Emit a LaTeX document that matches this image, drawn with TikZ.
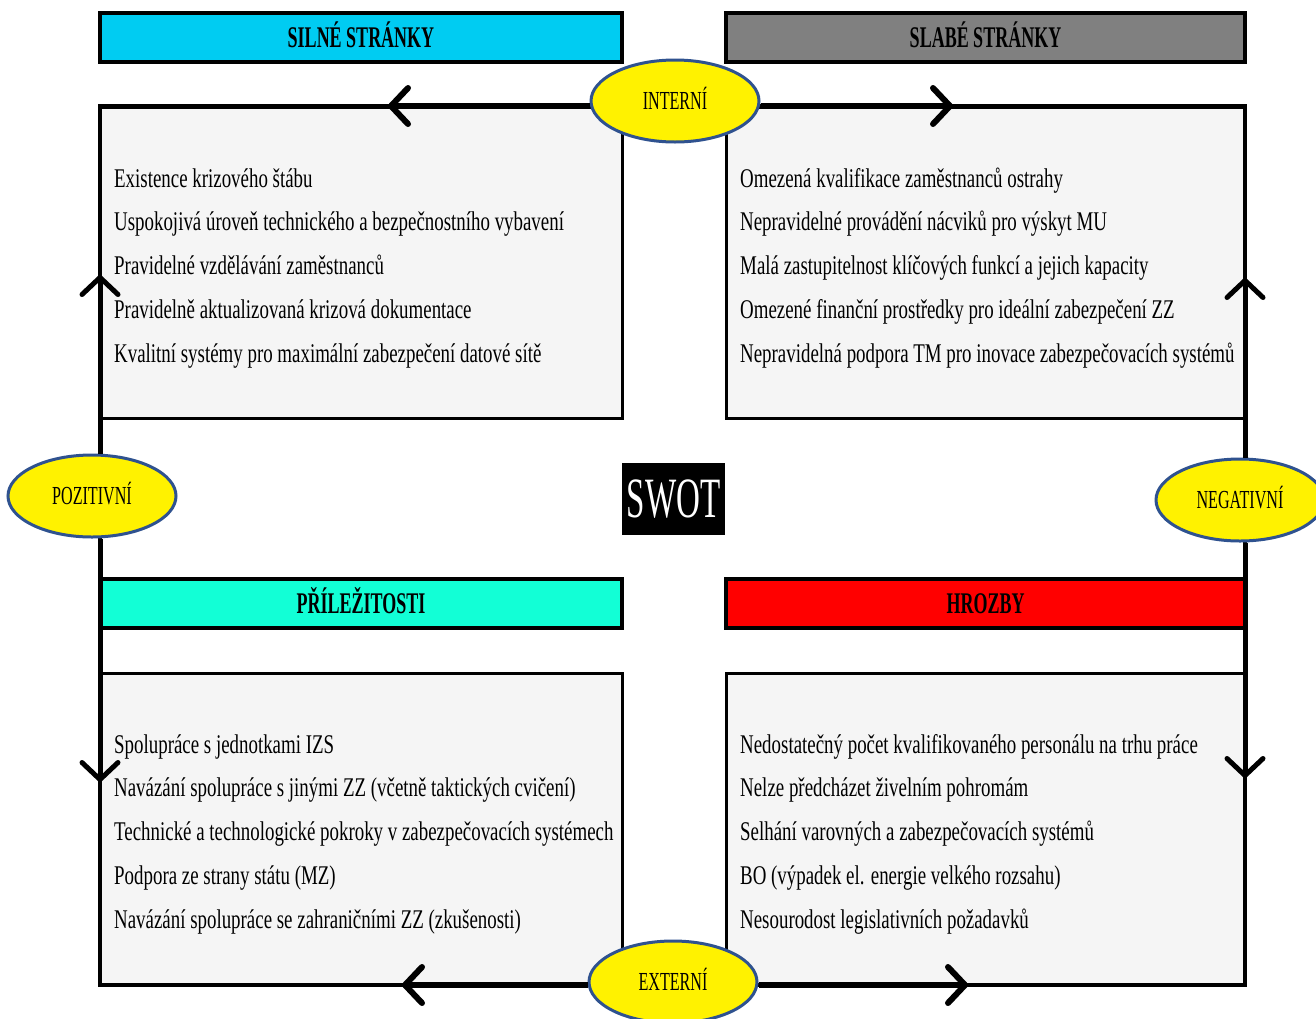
\documentclass[tikz,border=0pt]{standalone}
\usepackage{fontspec}
\setmainfont{Liberation Serif}
\newfontfamily\bodyf[FakeStretch=0.70]{Liberation Serif}
\newfontfamily\hdrf[FakeStretch=0.60]{Liberation Serif}
\newfontfamily\ellf[FakeStretch=0.62]{Liberation Serif}
\newfontfamily\swotf[FakeStretch=0.58]{Liberation Serif}
\usetikzlibrary{shapes.geometric,arrows.meta}
\definecolor{hcyan}{RGB}{0,204,242}
\definecolor{hgray}{RGB}{128,128,128}
\definecolor{haqua}{RGB}{18,255,214}
\definecolor{hred}{RGB}{255,0,0}
\definecolor{boxfill}{RGB}{245,245,245}
\definecolor{eblue}{RGB}{47,82,143}
\begin{document}
\begin{tikzpicture}[x=1pt,y=-1pt,
  hdr/.style={draw=black,line width=4pt,minimum width=522pt,minimum height=49pt,inner sep=0pt,
    text height=20pt,text depth=0pt,
    font=\hdrf\bfseries\fontsize{30}{30}\selectfont},
  box/.style={draw=black,line width=3pt,fill=boxfill,minimum width=522pt,minimum height=311pt,inner sep=0pt},
  ell/.style={ellipse,draw=eblue,line width=3pt,fill=yellow,minimum width=168pt,minimum height=82pt,inner sep=0pt,
    text height=17.5pt,text depth=0pt,
    font=\ellf\fontsize{26}{26}\selectfont},
  item/.style={anchor=base west,inner sep=0pt,font=\bodyf\fontsize{27}{30}\selectfont},
  frame/.style={draw=black,line width=4.5pt},
  arr/.style={draw=black,line width=6pt,-{Straight Barb[length=17pt,width=36pt,round]}}]
\useasboundingbox (0,0) rectangle (1316,1018);
\fill[white] (0,0) rectangle (1316,1018);
% headers
\node[hdr,fill=hcyan] (hs) at (361,37.5) {SILNÉ STRÁNKY};
\node[hdr,fill=hgray,minimum width=519pt] (hw) at (985.5,37.5) {SLABÉ STRÁNKY};
\node[hdr,fill=haqua] (ho) at (361,603.5) {PŘÍLEŽITOSTI};
\node[hdr,fill=hred,minimum width=519pt] (ht) at (985.5,603.5) {HROZBY};
% boxes
\node[box] (bs) at (361,262.5) {};
\node[box,minimum width=519pt] (bw) at (985.5,262.5) {};
\node[box,minimum height=312pt] (bo) at (361,829) {};
\node[box,minimum width=519pt,minimum height=312pt] (bt) at (985.5,829) {};
% frame corners and arrow tips
\coordinate (ctl) at (100,106);
\coordinate (ctr) at (1245,106);
\coordinate (cbl) at (100,985);
\coordinate (cbr) at (1245,985);
\coordinate (atl) at (388,106);
\coordinate (atr) at (953,106);
\coordinate (aul) at (100,275);
\coordinate (adl) at (100,782);
\coordinate (aur) at (1245,278);
\coordinate (adr) at (1245,778);
\coordinate (abl) at (402,985);
\coordinate (abr) at (968,985);
\draw[frame] (ctl) -- (ctr) -- (cbr) -- (cbl) -- cycle;
% ellipses
\node[ell] (int) at (675,101) {INTERNÍ};
\node[ell] (pos) at (92,496) {POZITIVNÍ};
\node[ell] (neg) at (1240,500) {NEGATIVNÍ};
\node[ell] (ext) at (673,982) {EXTERNÍ};
% arrows
\draw[arr] (int.west |- ctl) -- (atl);
\draw[arr] (int.east |- ctr) -- (atr);
\draw[arr,line width=5pt] (pos.north -| ctl) -- (aul);
\draw[arr,line width=5pt] (pos.south -| ctl) -- (adl);
\draw[arr,line width=5pt] (neg.north -| ctr) -- (aur);
\draw[arr,line width=5pt] (neg.south -| ctr) -- (adr);
\draw[arr] (ext.west |- cbl) -- (abl);
\draw[arr] (ext.east |- cbr) -- (abr);
% SWOT
\node[fill=black,text=white,minimum width=103pt,minimum height=72pt,inner sep=0pt,
  font=\swotf\fontsize{57}{57}\selectfont] (swot) at (673.5,499) {SWOT};
% texts
\foreach [count=\i] \t in {{Existence krizového štábu},
  {Uspokojivá úroveň technického a bezpečnostního vybavení},
  {Pravidelné vzdělávání zaměstnanců},
  {Pravidelně aktualizovaná krizová dokumentace},
  {Kvalitní systémy pro maximální zabezpečení datové sítě}}
  \node[item] (s\i) at (114,{187+43.75*(\i-1)}) {\t};
\foreach [count=\i] \t in {{Omezená kvalifikace zaměstnanců ostrahy},
  {Nepravidelné provádění nácviků pro výskyt MU},
  {Malá zastupitelnost klíčových funkcí a jejich kapacity},
  {Omezené finanční prostředky pro ideální zabezpečení ZZ},
  {Nepravidelná podpora TM pro inovace zabezpečovacích systémů}}
  \node[item] (w\i) at (740,{187+43.75*(\i-1)}) {\t};
\foreach [count=\i] \t in {{Spolupráce s jednotkami IZS},
  {Navázání spolupráce s jinými ZZ (včetně taktických cvičení)},
  {Technické a technologické pokroky v zabezpečovacích systémech},
  {Podpora ze strany státu (MZ)},
  {Navázání spolupráce se zahraničními ZZ (zkušenosti)}}
  \node[item] (o\i) at (114,{753+43.75*(\i-1)}) {\t};
\foreach [count=\i] \t in {{Nedostatečný počet kvalifikovaného personálu na trhu práce},
  {Nelze předcházet živelním pohromám},
  {Selhání varovných a zabezpečovacích systémů},
  {BO (výpadek el. energie velkého rozsahu)},
  {Nesourodost legislativních požadavků}}
  \node[item] (t\i) at (740,{753+43.75*(\i-1)}) {\t};
\end{tikzpicture}
\end{document}
